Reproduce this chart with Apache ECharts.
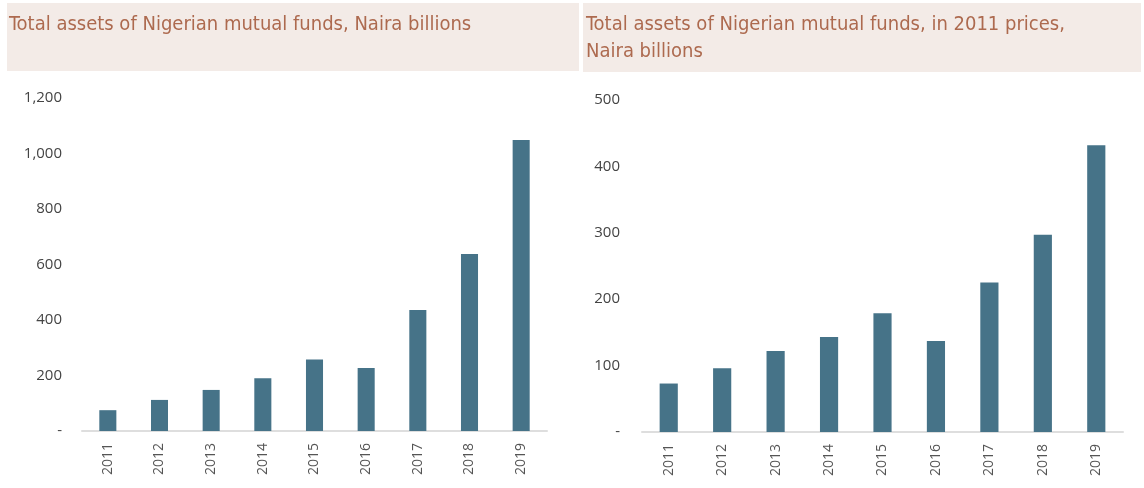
<!DOCTYPE html>
<html lang="en">
<head>
<meta charset="UTF-8">
<title>Nigerian mutual funds</title>
<script src="https://cdn.jsdelivr.net/npm/echarts@6/dist/echarts.min.js"></script>
<style>
  html, body { margin: 0; padding: 0; background: #fff; }
  #container { width: 1144px; height: 488px; }
</style>
</head>
<body>
<div id="container"></div>
<script>
  // data
  var years = ['2011', '2012', '2013', '2014', '2015', '2016', '2017', '2018', '2019'];
  var nominalAssets = [75, 112, 148, 190, 258, 227, 436, 638, 1049];
  var realAssets = [73, 96, 122, 143, 179, 137, 225, 297, 432];

  var titleLeft = 'Total assets of Nigerian mutual funds, Naira billions';
  var titleRight = 'Total assets of Nigerian mutual funds, in 2011 prices,\nNaira billions';

  var barColor = '#467388';
  var font = '"Liberation Sans Narrow", "DejaVu Sans Condensed", sans-serif';
  var numFont = '"Open Sans", "Noto Sans", sans-serif';

  // 0 is shown as a dash, thousands get a comma
  function fmt(v) {
    if (v === 0) return '-';
    return String(v).replace(/\B(?=(\d{3})+(?!\d))/g, ',');
  }

  var chart = echarts.init(document.getElementById('container'));

  function xAxisFor(idx) {
    return {
      type: 'category',
      gridIndex: idx,
      data: years,
      axisTick: { show: false },
      axisLine: { lineStyle: { color: '#dedede', width: 2 } },
      axisLabel: {
        rotate: 90,
        margin: 12,
        fontSize: 14,
        fontFamily: numFont,
        color: '#555'
      }
    };
  }

  function yAxisFor(idx, max, step, margin) {
    return {
      type: 'value',
      gridIndex: idx,
      min: 0,
      max: max,
      interval: step,
      splitLine: { show: false },
      axisLine: { show: false },
      axisTick: { show: false },
      axisLabel: {
        margin: margin,
        fontSize: 15,
        fontFamily: numFont,
        color: '#444',
        formatter: fmt
      }
    };
  }

  var titleStyle = { fontFamily: font, fontSize: 20, fontWeight: 'normal', color: '#ad6a4f', lineHeight: 27 };

  var option = {
    backgroundColor: '#fff',
    animation: false,
    graphic: [
      { type: 'rect', shape: { x: 7, y: 3, width: 572, height: 68 }, style: { fill: '#f3ebe7' } },
      { type: 'rect', shape: { x: 583, y: 3, width: 558, height: 69 }, style: { fill: '#f3ebe7' } }
    ],
    title: [{
      text: titleLeft,
      left: 4,
      top: 6,
      textStyle: titleStyle
    }, {
      text: titleRight,
      left: 581,
      top: 6,
      textStyle: titleStyle
    }],
    grid: [
      { left: 82, right: 597, top: 98, bottom: 57 },
      { left: 642, right: 21, top: 100, bottom: 56 }
    ],
    xAxis: [xAxisFor(0), xAxisFor(1)],
    yAxis: [yAxisFor(0, 1200, 200, 20), yAxisFor(1, 500, 100, 22)],
    series: [{
      type: 'bar',
      xAxisIndex: 0,
      yAxisIndex: 0,
      data: nominalAssets,
      barWidth: '33%',
      itemStyle: { color: barColor }
    }, {
      type: 'bar',
      xAxisIndex: 1,
      yAxisIndex: 1,
      data: realAssets,
      barWidth: '34%',
      itemStyle: { color: barColor }
    }]
  };

  chart.setOption(option);
</script>
</body>
</html>
